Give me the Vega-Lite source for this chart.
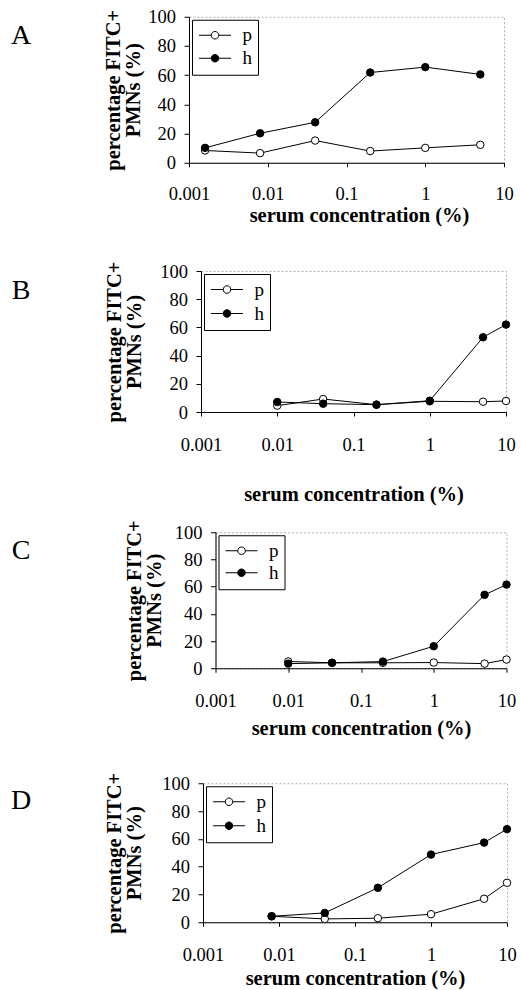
{
  "$schema": "https://vega.github.io/schema/vega-lite/v6.json",
  "padding": {"left": 0, "top": 6.75, "right": 0, "bottom": 0},
  "background": "white",
  "datasets": {
    "A": [
      {"conc": 0.0016, "series": "p", "value": 8.4},
      {"conc": 0.008, "series": "p", "value": 6.6},
      {"conc": 0.04, "series": "p", "value": 15.2},
      {"conc": 0.2, "series": "p", "value": 8},
      {"conc": 1, "series": "p", "value": 10.2},
      {"conc": 5, "series": "p", "value": 12.3},
      {"conc": 0.0016, "series": "h", "value": 10.2},
      {"conc": 0.008, "series": "h", "value": 20.2},
      {"conc": 0.04, "series": "h", "value": 27.7},
      {"conc": 0.2, "series": "h", "value": 61.8},
      {"conc": 1, "series": "h", "value": 65.5},
      {"conc": 5, "series": "h", "value": 60.5}
    ],
    "B": [
      {"conc": 0.01, "series": "p", "value": 4.5},
      {"conc": 0.04, "series": "p", "value": 9.2},
      {"conc": 0.2, "series": "p", "value": 5.2},
      {"conc": 1, "series": "p", "value": 7.6},
      {"conc": 5, "series": "p", "value": 7.3},
      {"conc": 10, "series": "p", "value": 7.8},
      {"conc": 0.01, "series": "h", "value": 7.1},
      {"conc": 0.04, "series": "h", "value": 5.9},
      {"conc": 0.2, "series": "h", "value": 5.2},
      {"conc": 1, "series": "h", "value": 8},
      {"conc": 5, "series": "h", "value": 53},
      {"conc": 10, "series": "h", "value": 62}
    ],
    "C": [
      {"conc": 0.01, "series": "p", "value": 5},
      {"conc": 0.04, "series": "p", "value": 4},
      {"conc": 0.2, "series": "p", "value": 4},
      {"conc": 1, "series": "p", "value": 4.2},
      {"conc": 5, "series": "p", "value": 3.4},
      {"conc": 10, "series": "p", "value": 6.4},
      {"conc": 0.01, "series": "h", "value": 3.4},
      {"conc": 0.04, "series": "h", "value": 4},
      {"conc": 0.2, "series": "h", "value": 4.9},
      {"conc": 1, "series": "h", "value": 16.2},
      {"conc": 5, "series": "h", "value": 54},
      {"conc": 10, "series": "h", "value": 61.5}
    ],
    "D": [
      {"conc": 0.008, "series": "p", "value": 4.3},
      {"conc": 0.04, "series": "p", "value": 2.4},
      {"conc": 0.2, "series": "p", "value": 2.9},
      {"conc": 1, "series": "p", "value": 5.8},
      {"conc": 5, "series": "p", "value": 16.9},
      {"conc": 10, "series": "p", "value": 28.4},
      {"conc": 0.008, "series": "h", "value": 4.3},
      {"conc": 0.04, "series": "h", "value": 6.7},
      {"conc": 0.2, "series": "h", "value": 24.8},
      {"conc": 1, "series": "h", "value": 48.7},
      {"conc": 5, "series": "h", "value": 57.3},
      {"conc": 10, "series": "h", "value": 67}
    ]
  },
  "spacing": 12.5,
  "resolve": {"scale": {"fill": "independent"}, "legend": {"fill": "independent"}},
  "vconcat": [
    {
      "spacing": 33.25,
      "resolve": {"scale": {"fill": "independent"}, "legend": {"fill": "independent"}},
      "vconcat": [
        {
          "spacing": 61,
          "resolve": {"scale": {"fill": "independent"}, "legend": {"fill": "independent"}},
          "hconcat": [
            {
              "width": 42, "height": 38,
              "view": {"stroke": null},
              "data": {"values": [{"panel": "A"}]},
              "mark": {"type": "text", "font": "Liberation Serif", "fontSize": 28, "align": "center", "baseline": "middle", "color": "black"},
              "encoding": {"text": {"field": "panel", "type": "nominal"}}
            },
            {
              "width": 315, "height": 146,
              "data": {"name": "A"},
              "encoding": {
                "x": {"field": "conc", "type": "quantitative", "scale": {"type": "log", "domain": [0.001, 10]},
                  "axis": {"values": [0.001, 0.01, 0.1, 1, 10], "format": "~g", "labelOverlap": false, "labelFlush": false, "labelPadding": 17.5, "title": "serum concentration (%)", "titlePadding": 3, "titleX": 170}},
                "y": {"field": "value", "type": "quantitative", "scale": {"domain": [0, 100]},
                  "axis": {"values": [0, 20, 40, 60, 80, 100], "labelOverlap": false, "labelFlush": false, "title": ["percentage FITC+", "PMNs (%)"], "titlePadding": 4.25}}
              },
              "layer": [
                {
                  "mark": {"type": "line", "color": "black", "strokeWidth": 1},
                  "encoding": {"detail": {"field": "series", "type": "nominal"}}
                },
                {
                  "mark": {"type": "point", "shape": "circle", "size": 56, "stroke": "black", "strokeWidth": 1, "opacity": 1, "filled": true},
                  "encoding": {
                    "fill": {"field": "series", "type": "nominal", "scale": {"domain": ["p", "h"], "range": ["white", "black"]},
                      "legend": {"title": null, "rowPadding": 3}}
                  }
                }
              ]
            }
          ]
        },
        {
          "spacing": 62,
          "resolve": {"scale": {"fill": "independent"}, "legend": {"fill": "independent"}},
          "hconcat": [
            {
              "width": 42, "height": 40,
              "view": {"stroke": null},
              "data": {"values": [{"panel": "B"}]},
              "mark": {"type": "text", "font": "Liberation Serif", "fontSize": 28, "align": "center", "baseline": "middle", "color": "black"},
              "encoding": {"text": {"field": "panel", "type": "nominal"}}
            },
            {
              "width": 305, "height": 141,
              "data": {"name": "B"},
              "encoding": {
                "x": {"field": "conc", "type": "quantitative", "scale": {"type": "log", "domain": [0.001, 10]},
                  "axis": {"values": [0.001, 0.01, 0.1, 1, 10], "format": "~g", "labelOverlap": false, "labelFlush": false, "title": "serum concentration (%)", "titlePadding": 30.75}},
                "y": {"field": "value", "type": "quantitative", "scale": {"domain": [0, 100]},
                  "axis": {"values": [0, 20, 40, 60, 80, 100], "labelOverlap": false, "labelFlush": false, "title": ["percentage FITC+", "PMNs (%)"], "titlePadding": 15.25}}
              },
              "layer": [
                {
                  "mark": {"type": "line", "color": "black", "strokeWidth": 1},
                  "encoding": {"detail": {"field": "series", "type": "nominal"}}
                },
                {
                  "mark": {"type": "point", "shape": "circle", "size": 56, "stroke": "black", "strokeWidth": 1, "opacity": 1, "filled": true},
                  "encoding": {
                    "fill": {"field": "series", "type": "nominal", "scale": {"domain": ["p", "h"], "range": ["white", "black"]},
                      "legend": {"title": null, "rowPadding": 4}}
                  }
                }
              ]
            }
          ]
        }
      ]
    },
    {
      "spacing": 32,
      "resolve": {"scale": {"fill": "independent"}, "legend": {"fill": "independent"}},
      "vconcat": [
        {
          "spacing": 81.5,
          "resolve": {"scale": {"fill": "independent"}, "legend": {"fill": "independent"}},
          "hconcat": [
            {
              "width": 42, "height": 38,
              "view": {"stroke": null},
              "data": {"values": [{"panel": "C"}]},
              "mark": {"type": "text", "font": "Liberation Serif", "fontSize": 28, "align": "center", "baseline": "middle", "color": "black"},
              "encoding": {"text": {"field": "panel", "type": "nominal"}}
            },
            {
              "width": 291, "height": 136,
              "data": {"name": "C"},
              "encoding": {
                "x": {"field": "conc", "type": "quantitative", "scale": {"type": "log", "domain": [0.001, 10]},
                  "axis": {"values": [0.001, 0.01, 0.1, 1, 10], "format": "~g", "labelOverlap": false, "labelFlush": false, "title": "serum concentration (%)", "titlePadding": 8.25}},
                "y": {"field": "value", "type": "quantitative", "scale": {"domain": [0, 100]},
                  "axis": {"values": [0, 20, 40, 60, 80, 100], "labelOverlap": false, "labelFlush": false, "title": ["percentage FITC+", "PMNs (%)"], "titlePadding": 9.75}}
              },
              "layer": [
                {
                  "mark": {"type": "line", "color": "black", "strokeWidth": 1},
                  "encoding": {"detail": {"field": "series", "type": "nominal"}}
                },
                {
                  "mark": {"type": "point", "shape": "circle", "size": 56, "stroke": "black", "strokeWidth": 1, "opacity": 1, "filled": true},
                  "encoding": {
                    "fill": {"field": "series", "type": "nominal", "scale": {"domain": ["p", "h"], "range": ["white", "black"]},
                      "legend": {"title": null, "rowPadding": 2}}
                  }
                }
              ]
            }
          ]
        },
        {
          "spacing": 62,
          "resolve": {"scale": {"fill": "independent"}, "legend": {"fill": "independent"}},
          "hconcat": [
            {
              "width": 42, "height": 36,
              "view": {"stroke": null},
              "data": {"values": [{"panel": "D"}]},
              "mark": {"type": "text", "font": "Liberation Serif", "fontSize": 28, "align": "center", "baseline": "middle", "color": "black"},
              "encoding": {"text": {"field": "panel", "type": "nominal"}}
            },
            {
              "width": 304, "height": 139,
              "data": {"name": "D"},
              "encoding": {
                "x": {"field": "conc", "type": "quantitative", "scale": {"type": "log", "domain": [0.001, 10]},
                  "axis": {"values": [0.001, 0.01, 0.1, 1, 10], "format": "~g", "labelOverlap": false, "labelFlush": false, "title": "serum concentration (%)", "titlePadding": 5}},
                "y": {"field": "value", "type": "quantitative", "scale": {"domain": [0, 100]},
                  "axis": {"values": [0, 20, 40, 60, 80, 100], "labelOverlap": false, "labelFlush": false, "title": ["percentage FITC+", "PMNs (%)"], "titlePadding": 17.25}}
              },
              "layer": [
                {
                  "mark": {"type": "line", "color": "black", "strokeWidth": 1},
                  "encoding": {"detail": {"field": "series", "type": "nominal"}}
                },
                {
                  "mark": {"type": "point", "shape": "circle", "size": 56, "stroke": "black", "strokeWidth": 1, "opacity": 1, "filled": true},
                  "encoding": {
                    "fill": {"field": "series", "type": "nominal", "scale": {"domain": ["p", "h"], "range": ["white", "black"]},
                      "legend": {"title": null, "rowPadding": 4}}
                  }
                }
              ]
            }
          ]
        }
      ]
    }
  ],
  "config": {
    "font": "Liberation Serif",
    "view": {"stroke": "#b0b0b0", "strokeDash": [2, 2], "strokeWidth": 1},
    "axis": {
      "grid": false,
      "domainColor": "black", "domainWidth": 1,
      "tickColor": "black", "tickWidth": 1, "tickSize": 5,
      "labelColor": "black", "labelFont": "Liberation Serif", "labelFontSize": 18.5,
      "labelFlush": false, "labelOverlap": false,
      "titleColor": "black", "titleFont": "Liberation Serif", "titleFontSize": 20.5, "titleFontWeight": "bold"
    },
    "axisX": {"tickSize": 4, "labelPadding": 19},
    "axisY": {"labelPadding": 8.5, "titleLineHeight": 20},
    "legend": {
      "orient": "top-left", "offset": 3,
      "strokeColor": "black", "fillColor": "white", "padding": 6,
      "symbolType": "M-2,0H-0.47M0.47,0H2M-0.47,0A0.47,0.47 0 1,0 0.47,0A0.47,0.47 0 1,0 -0.47,0Z",
      "symbolSize": 256, "symbolOffset": 7.5, "symbolStrokeColor": "black", "symbolStrokeWidth": 1, "symbolOpacity": 1,
      "labelFont": "Liberation Serif", "labelFontSize": 19, "labelColor": "black", "labelOffset": 18
    }
  }
}
